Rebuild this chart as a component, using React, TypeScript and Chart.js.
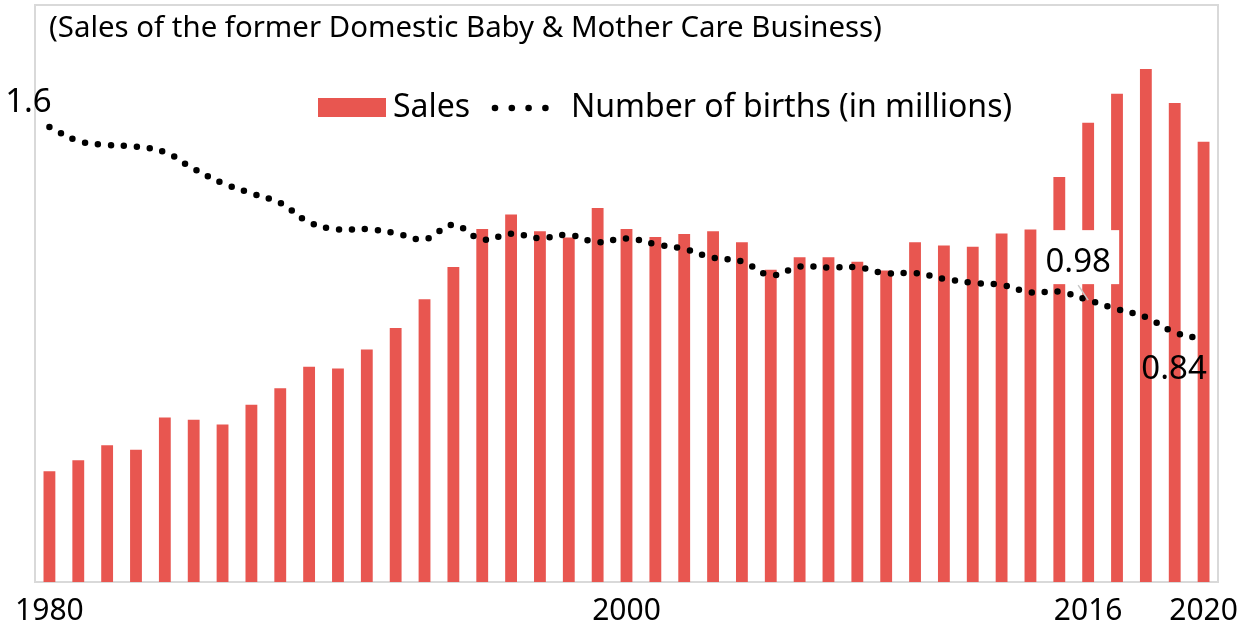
import React, { useEffect, useRef } from "react";
import { Chart, registerables } from "chart.js";

Chart.register(...registerables);

const years: string[] = [
  "1980","1981","1982","1983","1984","1985","1986","1987","1988","1989",
  "1990","1991","1992","1993","1994","1995","1996","1997","1998","1999",
  "2000","2001","2002","2003","2004","2005","2006","2007","2008","2009",
  "2010","2011","2012","2013","2014","2015","2016","2017","2018","2019","2020",
];

const shownYearLabels: string[] = ["1980", "2000", "2016", "2020"];

// Sales (relative index)
const sales: number[] = [
  19.2, 21.1, 23.7, 22.9, 28.5, 28.1, 27.3, 30.7, 33.6, 37.3,
  37.0, 40.3, 44.0, 49.0, 54.6, 61.2, 63.7, 60.8, 59.7, 64.8,
  61.2, 59.8, 60.3, 60.8, 58.9, 54.1, 56.3, 56.3, 55.5, 54.0,
  58.9, 58.3, 58.1, 60.4, 61.1, 70.2, 79.6, 84.6, 88.9, 83.0, 76.3,
];

// Number of births (in millions)
const births: number[] = [
  1.577, 1.529, 1.515, 1.509, 1.490, 1.432, 1.383, 1.347, 1.314, 1.247,
  1.222, 1.223, 1.209, 1.188, 1.238, 1.187, 1.207, 1.192, 1.203, 1.178,
  1.191, 1.171, 1.154, 1.124, 1.111, 1.063, 1.093, 1.090, 1.091, 1.070,
  1.071, 1.051, 1.037, 1.030, 1.004, 1.006, 0.977, 0.946, 0.918, 0.865, 0.841,
];

const labelledBirthYears: string[] = ["1980", "2016", "2020"];
const labelTexts: string[] = ["1.6", "0.98", "0.84"];

const subtitle = "(Sales of the former Domestic Baby & Mother Care Business)";
const legendSales = "Sales";
const legendBirths = "Number of births (in millions)";

const RED = "#E85650";
const FONT = "'Noto Sans', 'Open Sans', sans-serif";

const decorPlugin = {
  id: "decor",
  beforeDatasetsDraw(chart: any) {
    const { ctx, chartArea } = chart;
    ctx.save();
    ctx.strokeStyle = "#D9D9D9";
    ctx.lineWidth = 2;
    ctx.strokeRect(chartArea.left, chartArea.top, chartArea.right - chartArea.left, chartArea.bottom - chartArea.top);
    ctx.restore();
  },
  afterDatasetsDraw(chart: any) {
    const { ctx, chartArea } = chart;
    const x = chart.scales.x;
    const y1 = chart.scales.y1;
    ctx.save();
    // subtitle
    ctx.fillStyle = "#000";
    ctx.font = `29.4px ${FONT}`;
    ctx.textBaseline = "alphabetic";
    ctx.textAlign = "left";
    ctx.fillText(subtitle, chartArea.left + 14, 37);

    // legend
    ctx.fillStyle = RED;
    ctx.fillRect(318, 98, 68, 19);
    ctx.fillStyle = "#000";
    ctx.font = `32px ${FONT}`;
    ctx.fillText(legendSales, 393, 117);
    for (let i = 0; i < 4; i++) {
      ctx.beginPath();
      ctx.arc(495 + i * 16.8, 108, 3.3, 0, Math.PI * 2);
      ctx.fill();
    }
    ctx.fillText(legendBirths, 571, 117);

    // data labels on the births line (offset of text centre / baseline)
    const offsets = [
      [-21, -15],
      [-10, -28],
      [-29.5, 40],
    ];
    ctx.font = `33px ${FONT}`;
    ctx.textAlign = "center";
    labelledBirthYears.forEach((yr, k) => {
      const idx = years.indexOf(yr);
      const px = x.getPixelForValue(idx);
      const py = y1.getPixelForValue(births[idx]);
      const lx = px + offsets[k][0];
      const ly = py + offsets[k][1];
      if (k === 1) {
        ctx.strokeStyle = "#C8C8C8";
        ctx.lineWidth = 1.5;
        ctx.beginPath();
        ctx.moveTo(lx, ly + 13);
        ctx.lineTo(px, py);
        ctx.stroke();
        ctx.fillStyle = "#FFFFFF";
        ctx.fillRect(lx - 41, ly - 42, 82, 54);
      }
      ctx.fillStyle = "#000";
      ctx.fillText(labelTexts[k], lx, ly);
    });
    ctx.restore();
  },
};

export default function App() {
  const ref = useRef<HTMLCanvasElement | null>(null);
  useEffect(() => {
    if (!ref.current) return;
    const chart = new Chart(ref.current, {
      type: "bar",
      data: {
        labels: years,
        datasets: [
          {
            type: "line",
            label: legendBirths,
            data: births,
            yAxisID: "y1",
            borderColor: "#000",
            borderWidth: 6.5,
            borderDash: [0, 13],
            borderCapStyle: "round",
            pointRadius: 0,
            tension: 0.4,
            fill: false,
            order: 0,
          } as any,
          {
            type: "bar",
            label: legendSales,
            data: sales,
            yAxisID: "y",
            backgroundColor: RED,
            borderWidth: 0,
            barPercentage: 0.41,
            categoryPercentage: 1,
            order: 1,
          },
        ],
      },
      options: {
        responsive: false,
        animation: false,
        layout: { padding: { left: 35, right: 24, top: 5, bottom: 0 } },
        plugins: {
          legend: { display: false },
          tooltip: { enabled: false },
          title: { display: false },
        },
        scales: {
          x: {
            offset: true,
            grid: { display: false, drawTicks: false },
            border: { display: false },
            afterFit: (scale: any) => {
              scale.height = 46;
              scale.paddingLeft = 0;
              scale.paddingRight = 0;
            },
            ticks: {
              autoSkip: false,
              maxRotation: 0,
              padding: 11,
              color: "#000",
              font: { family: FONT, size: 30 },
              callback: (_v: any, i: number) => (shownYearLabels.includes(years[i]) ? years[i] : ""),
            },
          },
          y: { display: false, min: 0, max: 100 },
          y1: { display: false, min: 0, max: 2.0 },
        },
      },
      plugins: [decorPlugin],
    });
    return () => chart.destroy();
  }, []);
  return (
    <div style={{ position: "fixed", left: 0, top: 0, width: 1242, height: 628, background: "#fff" }}>
      <canvas ref={ref} width={1242} height={628} style={{ display: "block" }} />
    </div>
  );
}
